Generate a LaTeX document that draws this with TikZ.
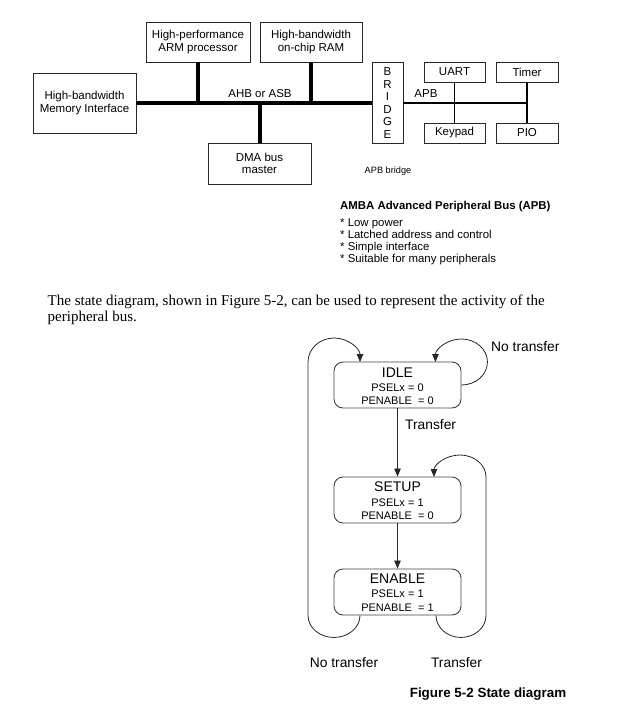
\documentclass[tikz,border=0pt]{standalone}
\usepackage{fontspec}
\setmainfont{Liberation Sans}
\newfontfamily\seriffont{Liberation Serif}
\usetikzlibrary{arrows.meta,calc}
\begin{document}
\begin{tikzpicture}[x=1pt,y=-1pt,
  blk/.style={draw=black!85,line width=0.8pt,inner sep=0pt,align=center,
     font=\fontsize{11.5}{12.5}\selectfont},
  thickbus/.style={line width=4pt},
  thinbus/.style={line width=1.6pt},
  stbox/.style={draw=black!75,line width=0.9pt,rounded corners=9pt,
     minimum width=127pt,minimum height=46pt,inner sep=0pt},
  stname/.style={font=\fontsize{14}{14}\selectfont,inner sep=0pt},
  stval/.style={font=\fontsize{11}{11}\selectfont,inner sep=0pt},
  lbl/.style={font=\fontsize{13.8}{14}\selectfont,inner sep=0pt},
  arr/.style={line width=0.8pt,draw=black!85,-{Triangle[length=8pt,width=6.5pt]}},
  txt/.style={font=\fontsize{11.4}{12.5}\selectfont,inner sep=0pt,anchor=base west},
  para/.style={anchor=base west,inner sep=0pt,font=\seriffont\fontsize{15}{16}\selectfont}
]
\useasboundingbox (0,0) rectangle (634,720);

% ---------- Top block diagram ----------
\node[blk,minimum width=103pt,minimum height=60pt] (mem) at (84.5,103) {High-bandwidth\\Memory Interface};
\node[blk,minimum width=104pt,minimum height=40pt] (arm) at (198,42) {High-performance\\ARM processor};
\node[blk,minimum width=102pt,minimum height=40pt] (ram) at (311,42) {High-bandwidth\\on-chip RAM};
\node[blk,minimum width=103pt,minimum height=41pt] (dma) at (259.5,163.5) {DMA bus\\master};
\node[blk,minimum width=31pt,minimum height=81pt,font=\fontsize{11.5}{12.6}\selectfont] (bridge) at (387.5,103) {B\\R\\I\\D\\G\\E};
\node[blk,minimum width=61pt,minimum height=20pt] (uart) at (454.5,72) {UART};
\node[blk,minimum width=62pt,minimum height=20pt] (timer) at (527,72) {Timer};
\node[blk,minimum width=61pt,minimum height=20pt] (keypad) at (454.5,133) {Keypad};
\node[blk,minimum width=62pt,minimum height=20pt] (pio) at (527,133) {PIO};

\draw[thickbus] (mem.east) -- (bridge.west |- mem.east);
\draw[thickbus] (arm.south) -- (arm.south |- mem.east);
\draw[thickbus] (ram.south) -- (ram.south |- mem.east);
\draw[thickbus] (dma.north) -- (dma.north |- mem.east);
\draw[thinbus] (bridge.east |- mem.east) -- (timer.south |- mem.east);
\draw[thinbus] (uart.south) -- (keypad.north);
\draw[thinbus] (timer.south) -- (pio.north);

\node[font=\fontsize{11.5}{12}\selectfont,inner sep=0pt] (ahb) at (260,94) {AHB or ASB};
\node[font=\fontsize{11.5}{12}\selectfont,inner sep=0pt] (apb) at (426,94) {APB};
\node[font=\fontsize{9.2}{10}\selectfont,inner sep=0pt] (apbbr) at (388,171) {APB bridge};

\node[txt,font=\bfseries\fontsize{11.4}{12.5}\selectfont] (amba) at (340,209) {AMBA Advanced Peripheral Bus (APB)};
\node[txt] (b1) at (340,226.3) {* Low power};
\node[txt] (b2) at (340,238) {* Latched address and control};
\node[txt] (b3) at (340,250.2) {* Simple interface};
\node[txt] (b4) at (340,262.4) {* Suitable for many peripherals};

% ---------- Paragraph ----------
\node[para] (p1) at (47.5,305.2)
  {The state diagram, shown in Figure 5-2, can be used to represent the activity of the};
\node[para] (p2) at (47.5,321) {peripheral bus.};

% ---------- State diagram ----------
\node[stbox] (idle) at (397.5,385) {};
\node[stbox] (setup) at (397.5,500) {};
\node[stbox] (enable) at (397.5,592) {};

\node[stname] (idleT) at ($(idle.center)+(0,-12)$) {IDLE};
\node[stval] (idleA) at ($(idle.center)+(0,3)$) {PSELx = 0};
\node[stval] (idleB) at ($(idle.center)+(0,16)$) {PENABLE~~= 0};
\node[stname] (setupT) at ($(setup.center)+(0,-13)$) {SETUP};
\node[stval] (setupA) at ($(setup.center)+(0,3)$) {PSELx = 1};
\node[stval] (setupB) at ($(setup.center)+(0,16)$) {PENABLE~~= 0};
\node[stname] (enableT) at ($(enable.center)+(0,-13)$) {ENABLE};
\node[stval] (enableA) at ($(enable.center)+(0,2)$) {PSELx = 1};
\node[stval] (enableB) at ($(enable.center)+(0,16)$) {PENABLE~~= 1};

\draw[arr] (idle.south) -- (setup.north);
\draw[arr] (setup.south) -- (enable.north);

% IDLE self loop
\draw[arr] (idle.east) arc[start angle=90,end angle=-180,x radius=26,y radius=23];
% ENABLE -> IDLE (left loop)
\draw[arr] ([xshift=-37.5pt]enable.south) arc[start angle=0,end angle=180,x radius=26,y radius=22]
  -- (308,362) arc[start angle=180,end angle=360,x radius=26,y radius=24];
% ENABLE -> SETUP (right loop)
\draw[arr] ([xshift=38.5pt]enable.south) arc[start angle=180,end angle=0,x radius=25,y radius=22]
  -- (486,477) arc[start angle=0,end angle=-180,x radius=26,y radius=22];

\node[lbl,anchor=west] (ntr1) at (491,347) {No transfer};
\node[lbl,anchor=west] (tr1) at (405,425) {Transfer};
\node[lbl] (ntr2) at (344,663) {No transfer};
\node[lbl] (tr2) at (456.5,663) {Transfer};
\node[inner sep=0pt,font=\bfseries\fontsize{13.4}{14}\selectfont] (cap) at (488,694) {Figure 5-2 State diagram};
\end{tikzpicture}
\end{document}
